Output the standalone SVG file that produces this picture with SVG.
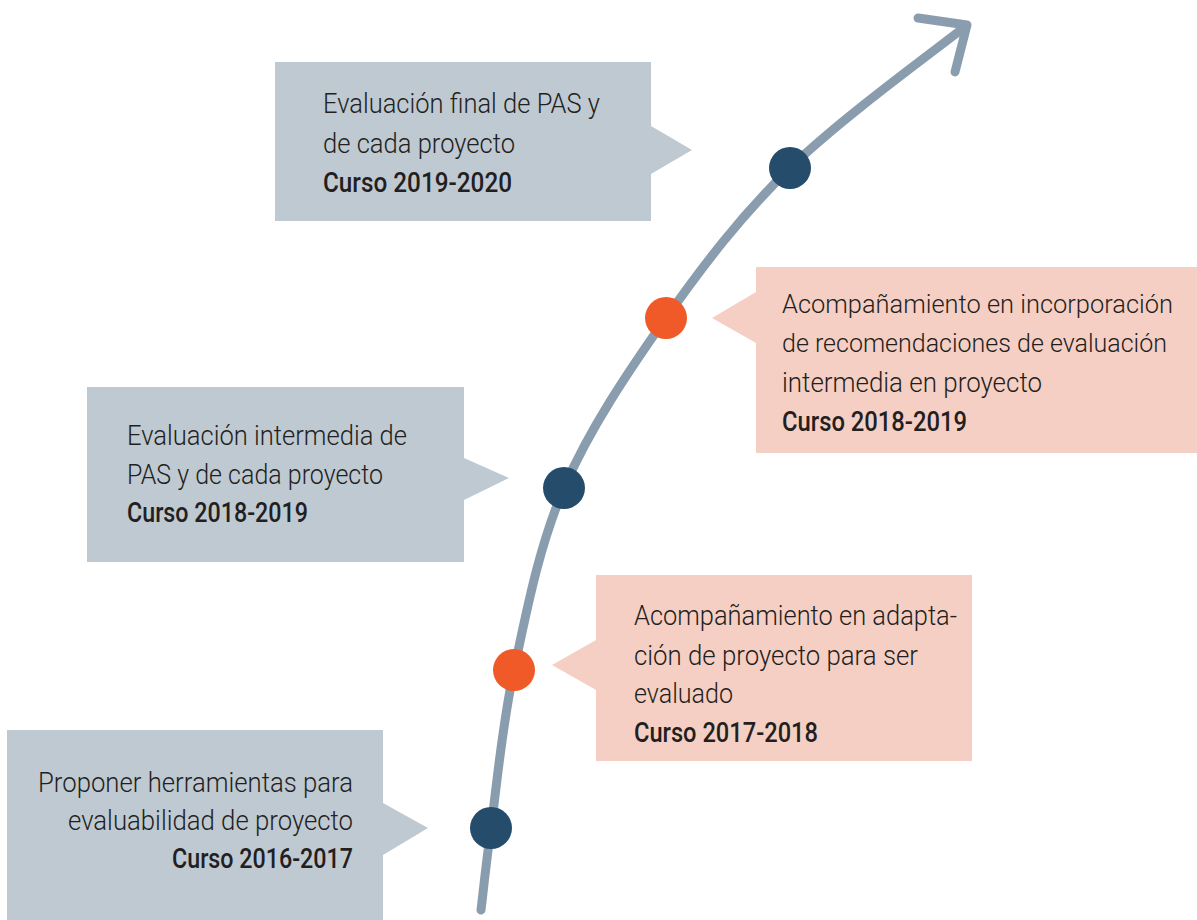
<svg xmlns="http://www.w3.org/2000/svg" width="1197" height="920" viewBox="0 0 1197 920">
<style>
.gray{fill:#BFC9D2}
.pink{fill:#F6CFC4}
.t{font-family:Roboto,"Liberation Sans",sans-serif;font-size:28px;font-weight:300;fill:#231F20}
.s{font-size:26px}
.b{font-weight:500}
.line{fill:none;stroke:#899DAE;stroke-width:9;stroke-linecap:round;stroke-linejoin:round}
.navy{fill:#264C6B}
.orange{fill:#F05A28}
</style>
<rect width="1197" height="920" fill="#FFFFFF"/>
<g id="connectors">
<path class="line" d="M481,910 C482.7,896.3 485.5,868 491,828 C496.5,788 501.8,726.7 514,670 C526.2,613.3 538.7,546.7 564,488 C589.3,429.3 628.3,371.3 666,318 C703.7,264.7 740.2,216.7 790,168 C839.8,119.3 935.8,49.7 966,26"/>
<path class="line" d="M918,18 L967,25 L955,72"/>
</g>
<g id="box-2019-2020">
<path class="gray" d="M275,62 H651 V126 L692,150 L651,174 V221 H275 Z"/>
<text class="t" x="323" y="113" textLength="277" lengthAdjust="spacingAndGlyphs">Evaluación final de PAS y</text>
<text class="t" x="323" y="153" textLength="192" lengthAdjust="spacingAndGlyphs">de cada proyecto</text>
<text class="t b" x="323" y="192" textLength="189" lengthAdjust="spacingAndGlyphs">Curso 2019-2020</text>
</g>
<g id="box-2018-2019-b">
<path class="pink" d="M756,267 H1197 V453 H756 V343 L712,318 L756,292 Z"/>
<text class="t s" x="782" y="313" textLength="391" lengthAdjust="spacingAndGlyphs">Acompañamiento en incorporación</text>
<text class="t s" x="782" y="352" textLength="385" lengthAdjust="spacingAndGlyphs">de recomendaciones de evaluación</text>
<text class="t" x="782" y="392" textLength="260" lengthAdjust="spacingAndGlyphs">intermedia en proyecto</text>
<text class="t b" x="782" y="431" textLength="185" lengthAdjust="spacingAndGlyphs">Curso 2018-2019</text>
</g>
<g id="box-2018-2019-a">
<path class="gray" d="M87,387 H464 V458 L509,478 L464,500 V562 H87 Z"/>
<text class="t" x="127" y="445" textLength="280" lengthAdjust="spacingAndGlyphs">Evaluación intermedia de</text>
<text class="t" x="127" y="484" textLength="256" lengthAdjust="spacingAndGlyphs">PAS y de cada proyecto</text>
<text class="t b" x="127" y="522" textLength="181" lengthAdjust="spacingAndGlyphs">Curso 2018-2019</text>
</g>
<g id="box-2017-2018">
<path class="pink" d="M596,575 H972 V761 H596 V690 L552,665 L596,640 Z"/>
<text class="t" x="634" y="625" textLength="323" lengthAdjust="spacingAndGlyphs">Acompañamiento en adapta-</text>
<text class="t" x="634" y="665" textLength="284" lengthAdjust="spacingAndGlyphs">ción de proyecto para ser</text>
<text class="t" x="634" y="703" textLength="99" lengthAdjust="spacingAndGlyphs">evaluado</text>
<text class="t b" x="634" y="742" textLength="184" lengthAdjust="spacingAndGlyphs">Curso 2017-2018</text>
</g>
<g id="box-2016-2017">
<path class="gray" d="M7,730 H383 V803 L428,828 L383,855 V920 H7 Z"/>
<text class="t" x="38" y="792" textLength="315" lengthAdjust="spacingAndGlyphs">Proponer herramientas para</text>
<text class="t" x="68" y="830" textLength="285" lengthAdjust="spacingAndGlyphs">evaluabilidad de proyecto</text>
<text class="t b" x="172" y="868" textLength="181" lengthAdjust="spacingAndGlyphs">Curso 2016-2017</text>
</g>
<g id="dots">
<circle id="dot-1" class="navy" cx="491" cy="828" r="21"/>
<circle id="dot-2" class="orange" cx="514" cy="670" r="21"/>
<circle id="dot-3" class="navy" cx="564" cy="488" r="21"/>
<circle id="dot-4" class="orange" cx="666" cy="318" r="21"/>
<circle id="dot-5" class="navy" cx="790" cy="168" r="21"/>
</g>
</svg>
